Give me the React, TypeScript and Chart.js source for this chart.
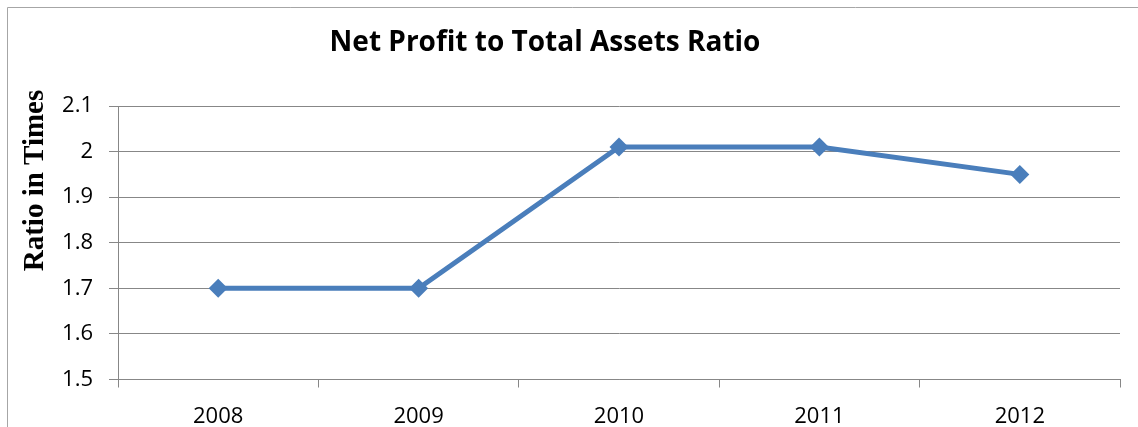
import React, { useEffect, useRef } from "react";
import { Chart, registerables } from "chart.js";

Chart.register(...registerables);

const categories = ["2008", "2009", "2010", "2011", "2012"];
const ratioValues = [1.7, 1.7, 2.01, 2.01, 1.95];
const yTickValues = [1.5, 1.6, 1.7, 1.8, 1.9, 2.0, 2.1];
const chartTitle = "Net Profit to Total Assets Ratio";
const yAxisTitle = "Ratio in Times";

const W = 1138;
const H = 427;
const GRID = "#878787";
const LINE = "#4a7ebb";

const decorPlugin = {
  id: "decor",
  beforeDraw(chart: any) {
    const ctx = chart.ctx;
    ctx.save();
    ctx.fillStyle = "#ffffff";
    ctx.fillRect(0, 0, W, H);
    ctx.strokeStyle = "#a6a6a6";
    ctx.lineWidth = 1;
    ctx.beginPath();
    ctx.moveTo(7.5, H);
    ctx.lineTo(7.5, 7.5);
    ctx.lineTo(W, 7.5);
    ctx.stroke();
    ctx.restore();
  },
  afterDraw(chart: any) {
    const ctx = chart.ctx;
    ctx.save();
    ctx.fillStyle = "#000000";
    ctx.font = "bold 28px 'Open Sans'";
    ctx.textAlign = "center";
    ctx.textBaseline = "alphabetic";
    ctx.fillText(chartTitle, 545, 51);
    ctx.translate(43, 180.5);
    ctx.rotate(-Math.PI / 2);
    ctx.font = "bold 29px 'Liberation Serif'";
    ctx.fillText(yAxisTitle, 0, 0);
    ctx.restore();
  },
};

export default function App() {
  const ref = useRef<HTMLCanvasElement | null>(null);
  useEffect(() => {
    if (!ref.current) return;
    const chart = new Chart(ref.current, {
      type: "line",
      data: {
        labels: categories,
        datasets: [
          {
            data: ratioValues,
            borderColor: LINE,
            backgroundColor: LINE,
            borderWidth: 5,
            pointStyle: "rectRot",
            pointRadius: 9.5,
            pointHoverRadius: 9.5,
            pointBorderWidth: 0,
            pointBackgroundColor: LINE,
            tension: 0,
          },
        ],
      },
      options: {
        responsive: false,
        animation: false,
        devicePixelRatio: 1,
        layout: { padding: { top: 106, right: 18, left: 0, bottom: 0 } },
        plugins: {
          legend: { display: false },
          title: { display: false },
          tooltip: { enabled: false },
        },
        scales: {
          x: {
            type: "category",
            offset: true,
            grid: {
              offset: true,
              drawOnChartArea: false,
              drawTicks: true,
              tickLength: 8,
              color: GRID,
              lineWidth: 1,
            },
            border: { display: true, color: GRID, width: 1 },
            ticks: {
              color: "#000000",
              font: { family: "'Open Sans'", size: 22 },
              padding: 16,
              maxRotation: 0,
            },
            afterFit(scale: any) {
              scale.height = 47.5;
            },
          },
          y: {
            min: 1.5,
            max: 2.1,
            afterBuildTicks(scale: any) {
              scale.ticks = yTickValues.map((v) => ({ value: v }));
            },
            grid: {
              drawTicks: true,
              tickLength: 9,
              color: GRID,
              lineWidth: 1,
            },
            border: { display: true, color: GRID, width: 1 },
            ticks: {
              color: "#000000",
              font: { family: "'Open Sans'", size: 22 },
              padding: 16,
              callback: (v: any) => String(Number(Number(v).toFixed(1))),
            },
            afterFit(scale: any) {
              scale.width = 118;
            },
          },
        },
      },
      plugins: [decorPlugin],
    });
    return () => chart.destroy();
  }, []);
  return (
    <div style={{ position: "fixed", left: 0, top: 0, width: W, height: H, background: "#fff" }}>
      <canvas ref={ref} width={W} height={H} style={{ display: "block", width: W, height: H }} />
    </div>
  );
}
